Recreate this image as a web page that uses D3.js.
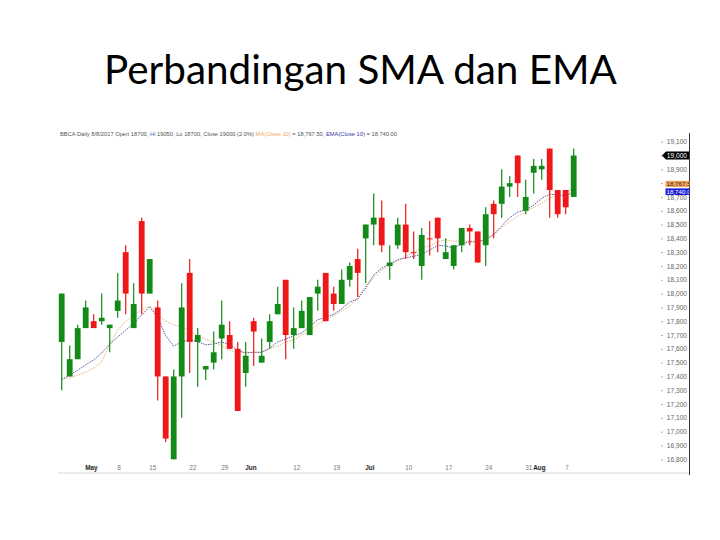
<!DOCTYPE html>
<html><head><meta charset="utf-8">
<script src="https://cdn.jsdelivr.net/npm/d3@7"></script>
<style>html,body{margin:0;padding:0;background:#fff;}svg{display:block;}</style>
</head><body>
<svg id="c" width="720" height="540"></svg>
<script>
const dates = ["2017-04-26","2017-04-27","2017-04-28","2017-05-02","2017-05-03","2017-05-04","2017-05-05","2017-05-08","2017-05-09","2017-05-10","2017-05-12","2017-05-15","2017-05-16","2017-05-17","2017-05-18","2017-05-19","2017-05-22","2017-05-23","2017-05-24","2017-05-26","2017-05-29","2017-05-30","2017-05-31","2017-06-02","2017-06-05","2017-06-06","2017-06-07","2017-06-08","2017-06-09","2017-06-12","2017-06-13","2017-06-14","2017-06-15","2017-06-16","2017-06-19","2017-06-20","2017-06-21","2017-06-22","2017-07-03","2017-07-04","2017-07-05","2017-07-06","2017-07-07","2017-07-10","2017-07-11","2017-07-12","2017-07-13","2017-07-14","2017-07-17","2017-07-18","2017-07-19","2017-07-20","2017-07-21","2017-07-24","2017-07-25","2017-07-26","2017-07-27","2017-07-28","2017-07-31","2017-08-01","2017-08-02","2017-08-03","2017-08-04","2017-08-07","2017-08-08"];
const openP  = [17650,17400,17525,17750,17800,17800,17750,17875,18300,17750,18525,18000,17900,17400,16800,17400,18150,17650,17450,17500,17675,17700,17600,17425,17800,17500,17650,17850,18100,17700,17750,17700,18000,18150,18000,17925,18100,18250,18400,18500,18550,18200,18350,18500,18300,18200,18400,18550,18250,18200,18350,18475,18450,18350,18650,18650,18775,19000,18600,18875,18900,19050,18750,18750,18700];
const highP  = [18000,17625,17775,17950,17850,18000,17775,18150,18350,18075,18550,18250,17950,17400,17450,18075,18250,17750,17475,17725,17950,17800,17650,17650,17825,17675,17850,18050,18100,17900,17950,17975,18100,18150,18050,18175,18225,18325,18500,18725,18675,18350,18550,18650,18450,18475,18525,18550,18400,18350,18475,18500,18450,18625,18675,18900,18850,19000,18825,18975,18975,19050,18750,18750,19050];
const lowP   = [17300,17400,17525,17750,17750,17775,17575,17825,17850,17750,17850,18000,17225,16925,16800,17100,17425,17325,17375,17450,17525,17600,17150,17325,17475,17500,17600,17850,17525,17600,17750,17700,17875,17800,17875,17925,18050,17975,18075,18350,18300,18100,18325,18250,18250,18100,18275,18300,18250,18175,18300,18350,18225,18200,18400,18550,18700,18700,18575,18725,18825,18550,18550,18575,18700];
const closeP = [18000,17525,17750,17900,17750,17825,17775,17950,18000,17925,18000,18250,17400,16950,17400,17900,17650,17700,17475,17575,17775,17600,17150,17550,17725,17550,17800,17925,17700,17750,17875,17975,18050,17800,17925,18100,18200,18150,18500,18550,18350,18225,18500,18300,18300,18425,18400,18400,18300,18350,18475,18450,18225,18575,18575,18775,18800,18800,18700,18925,18925,18750,18575,18625,19000];
const sma10 = [17380,17390,17410,17430,17460,17505,17630,17735,17800,17845,17880,17910,17845,17800,17775,17760,17730,17695,17670,17650,17620,17590,17570,17575,17575,17575,17600,17620,17650,17665,17700,17730,17775,17810,17840,17875,17910,17970,18055,18115,18170,18205,18235,18270,18300,18330,18345,18375,18390,18380,18380,18380,18375,18390,18425,18475,18520,18560,18590,18625,18655,18690,18715,18730,18767.5];
const ema10 = [17380,17410,17445,17485,17520,17570,17635,17685,17735,17785,17845,17905,17825,17695,17620,17650,17665,17650,17630,17635,17650,17630,17590,17570,17575,17575,17605,17650,17670,17695,17715,17760,17810,17830,17850,17890,17940,17960,18040,18135,18185,18215,18245,18260,18270,18285,18315,18350,18345,18330,18360,18375,18375,18390,18430,18490,18550,18590,18605,18640,18690,18720,18715,18705,18740];
const yTicks = d3.range(16800, 19101, 100);
const xTickDates  = ["2017-05-02","2017-05-08","2017-05-15","2017-05-22","2017-05-29","2017-06-02","2017-06-12","2017-06-19","2017-07-03","2017-07-10","2017-07-17","2017-07-24","2017-07-31","2017-08-01","2017-08-07"];
const xTickLabels = ["May","8","15","22","29","Jun","12","19","Jul","10","17","24","31","Aug","7"];
const monthLabels = ["May","Jun","Jul","Aug"];
const titleText = "Perbandingan SMA dan EMA";

const svg = d3.select("#c");
const x = d3.scalePoint().domain(dates).range([61.7, 573.7]);
const y = d3.scaleLinear().domain([16800, 19100]).range([459.3, 141.7]);

const lastClose = closeP[closeP.length - 1];
const lastSma = sma10[sma10.length - 1], lastEma = ema10[ema10.length - 1];
const yc = y(lastClose);
const ys = y(lastSma) - 3.5, ye = y(lastEma);

// Title
const title = svg.append("text").attr("x", 360.5).attr("y", 84)
  .attr("text-anchor", "middle").attr("font-family", "Lato, 'Open Sans', sans-serif")
  .attr("font-size", 40).attr("fill", "#000").text(titleText);
const tw = title.node().getComputedTextLength();
title.attr("font-size", 40 * 513 / tw);

// Header
const hdr = svg.append("text").attr("x", 60).attr("y", 135.5)
  .attr("font-family", "'Liberation Sans', Arial, sans-serif").attr("font-size", 5.6).attr("fill", "#555");
hdr.append("tspan").text("BBCA  Daily 8/8/2017 Open 18700, ");
hdr.append("tspan").attr("fill", "#3a6fb0").text("Hi");
hdr.append("tspan").text(" 19050, Lo 18700, Close 19000 (2.0%) ");
hdr.append("tspan").attr("fill", "#f0a860").text("MA(Close 10)");
hdr.append("tspan").text(" = 18,767.50, ");
hdr.append("tspan").attr("fill", "#3838a8").text("EMA(Close 10)");
hdr.append("tspan").text(" = 18,740.00");
hdr.attr("textLength", 337).attr("lengthAdjust", "spacingAndGlyphs");

// Bottom axis line
svg.append("line").attr("x1", 58).attr("x2", 689).attr("y1", 473).attr("y2", 473)
  .attr("stroke", "#d8d8d8").attr("stroke-width", 1);

// Right axis (labels hidden where the value markers cover them)
const covered = v => Math.abs(y(v) - yc) < 5 || Math.abs(y(v) - (ys)) < 4.5;
const yAxis = svg.append("g").attr("transform", "translate(687,0)")
  .call(d3.axisLeft(y).tickValues(yTicks).tickSize(0).tickPadding(0)
    .tickFormat(v => covered(v) ? "" : d3.format(",")(v)));
yAxis.select(".domain").remove();
yAxis.selectAll("text").attr("font-family", "'Liberation Sans', Arial, sans-serif")
  .attr("font-size", 6.6).attr("fill", "#666");
yAxis.selectAll(".tick").append("line").attr("x1", -26).attr("x2", -24.5)
  .attr("stroke", "#999").attr("stroke-width", 1);
svg.append("line").attr("x1", 689.5).attr("x2", 689.5).attr("y1", 133).attr("y2", 475)
  .attr("stroke", "#333").attr("stroke-width", 1);

// X axis
const xAxis = svg.append("g").attr("transform", "translate(0,465)")
  .call(d3.axisBottom(x).tickValues(xTickDates).tickSize(0).tickPadding(0)
    .tickFormat((d, i) => xTickLabels[i]));
xAxis.select(".domain").remove();
xAxis.selectAll("text").attr("text-anchor", "start").attr("dx", -1)
  .attr("font-family", "'Liberation Sans', Arial, sans-serif").attr("font-size", 6.4)
  .attr("fill", (d, i) => monthLabels.includes(xTickLabels[i]) ? "#222" : "#777")
  .attr("font-weight", (d, i) => monthLabels.includes(xTickLabels[i]) ? "bold" : "normal");

// Indicator lines
const lineGen = arr => d3.line().x((d, i) => x(dates[i])).y(d => y(d))(arr);
svg.append("path").attr("d", lineGen(sma10)).attr("fill", "none")
  .attr("stroke", "#e8aa78").attr("stroke-width", 0.9).attr("stroke-dasharray", "1.5,1");
svg.append("path").attr("d", lineGen(ema10)).attr("fill", "none")
  .attr("stroke", "#44449a").attr("stroke-width", 0.9).attr("stroke-dasharray", "1.5,1");

// Candles
const green = "#138a17", red = "#ef1717";
const idx = d3.range(dates.length);
const col = i => closeP[i] > openP[i] ? green : red;
svg.append("g").selectAll("line").data(idx).join("line")
  .attr("x1", i => x(dates[i])).attr("x2", i => x(dates[i]))
  .attr("y1", i => y(highP[i])).attr("y2", i => y(lowP[i]))
  .attr("stroke", col).attr("stroke-width", 1.2);
const bw = 5.8;
svg.append("g").selectAll("rect").data(idx).join("rect")
  .attr("x", i => x(dates[i]) - bw / 2).attr("width", bw)
  .attr("y", i => y(Math.max(openP[i], closeP[i])))
  .attr("height", i => Math.max(1, Math.abs(y(openP[i]) - y(closeP[i]))))
  .attr("fill", col);

// Value markers on right axis
svg.append("path").attr("d", `M662,${yc} L666,${yc-4} L689,${yc-4} L689,${yc+4} L666,${yc+4} Z`).attr("fill", "#000");
svg.append("text").attr("x", 687).attr("y", yc + 2.3).attr("text-anchor", "end")
  .attr("font-family", "'Liberation Sans', Arial, sans-serif").attr("font-size", 6.6)
  .attr("fill", "#fff").text(d3.format(",")(lastClose));
svg.append("rect").attr("x", 665.5).attr("y", ys - 3.3).attr("width", 24).attr("height", 6.2).attr("fill", "#f2a255");
svg.append("rect").attr("x", 665.5).attr("y", ye - 3).attr("width", 24).attr("height", 6.6).attr("fill", "#1c1cd8");
svg.append("clipPath").attr("id", "cl1").append("rect").attr("x", 660).attr("y", ys - 3.3).attr("width", 29).attr("height", 6.2);
svg.append("clipPath").attr("id", "cl2").append("rect").attr("x", 660).attr("y", ye - 3).attr("width", 29).attr("height", 6.6);
svg.append("text").attr("x", 666.5).attr("y", ys + 2).attr("clip-path", "url(#cl1)")
  .attr("font-family", "'Liberation Sans', Arial, sans-serif").attr("font-size", 6.2)
  .attr("fill", "#333").text(d3.format(",.1f")(lastSma));
svg.append("text").attr("x", 666.5).attr("y", ye + 2.3).attr("clip-path", "url(#cl2)")
  .attr("font-family", "'Liberation Sans', Arial, sans-serif").attr("font-size", 6.2)
  .attr("fill", "#fff").text(d3.format(",.1f")(lastEma));
</script>
</body></html>
